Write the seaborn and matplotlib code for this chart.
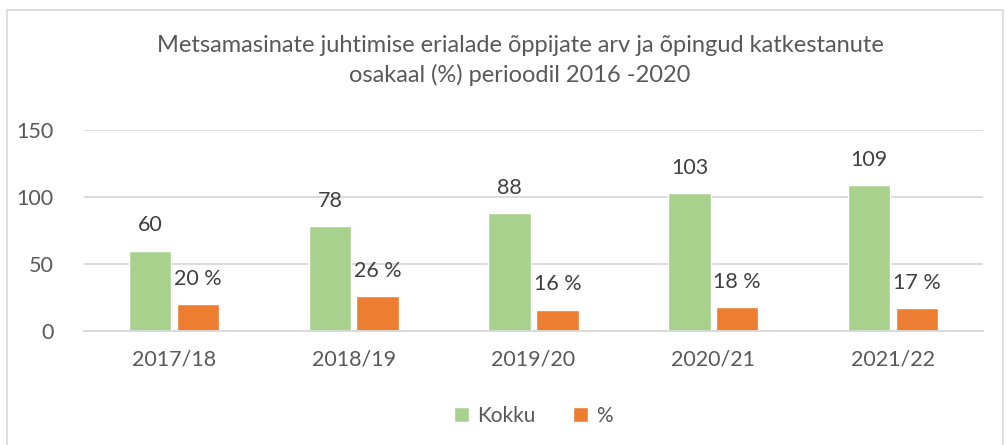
import pandas as pd
import matplotlib.pyplot as plt
import matplotlib.patches as mpatches
import seaborn as sns

years = ['2017/18', '2018/19', '2019/20', '2020/21', '2021/22']
kokku = [60, 78, 88, 103, 109]
protsent = [20, 26, 16, 18, 17]
series = ['Kokku', '%']
colors = ['#A9D18E', '#ED7D31']

df = pd.DataFrame({
    'aasta': years * 2,
    'vaartus': kokku + protsent,
    'seeria': [series[0]] * len(years) + [series[1]] * len(years),
})

sns.set_style('white')
plt.rcParams['font.family'] = ['Lato', 'DejaVu Sans']

fig = plt.figure(figsize=(10.06, 4.45), dpi=100)
ax = fig.add_axes([84 / 1006, 1 - 331 / 445, 899 / 1006, 201 / 445])

sns.barplot(data=df, x='aasta', y='vaartus', hue='seeria', palette=colors,
            width=0.53, gap=0.11, ax=ax, saturation=1, legend=True)

ax.set_ylim(0, 150)
ax.set_yticks([0, 50, 100, 150])
ax.set_xlim(-0.5, 4.5)
ax.yaxis.grid(True, color='#D9D9D9', linewidth=1.3)
ax.set_axisbelow(True)
for s in ['top', 'right', 'left']:
    ax.spines[s].set_visible(False)
ax.spines['bottom'].set_color('#D9D9D9')
ax.spines['bottom'].set_linewidth(1.3)
ax.tick_params(axis='both', length=0, labelsize=15.5, colors='#595959', pad=13)
ax.tick_params(axis='y', pad=22)
ax.set_xlabel('')
ax.set_ylabel('')

for cont, suffix in zip(ax.containers, ['', ' %']):
    labels = [f'{int(b.get_height())}{suffix}' for b in cont]
    ax.bar_label(cont, labels=labels, padding=11, fontsize=15.5, color='#404040')

ax.legend(loc='upper center', bbox_to_anchor=(0.5, -0.28), ncol=2, frameon=False,
          fontsize=15, handlelength=0.7, handleheight=0.7, handletextpad=0.4,
          columnspacing=1.8, labelcolor='#595959')

fig.text(0.517, 1 - 35 / 445, 'Metsamasinate juhtimise erialade õppijate arv ja õpingud katkestanute\nosakaal (%) perioodil 2016 -2020',
         ha='center', va='top', fontsize=17, color='#595959', linespacing=1.45)

fig.patches.append(mpatches.Rectangle((7 / 1006, -0.1), 996 / 1006, 1.1 - 10 / 445,
                                      transform=fig.transFigure, fill=False,
                                      edgecolor='#D9D9D9', linewidth=1.2))

fig.savefig('out.png', dpi=100)
